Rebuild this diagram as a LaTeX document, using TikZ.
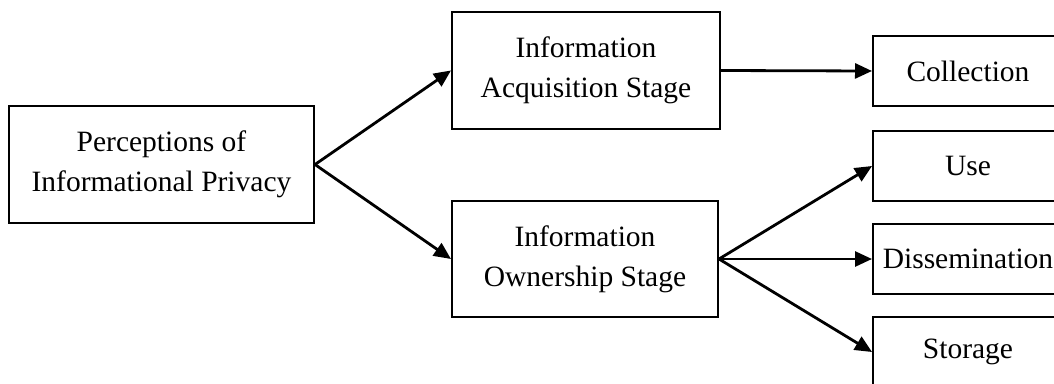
\documentclass[tikz,border=0pt]{standalone}
\usepackage{fontspec}
\setmainfont{Liberation Serif}
\usetikzlibrary{arrows.meta}
\begin{document}
\begin{tikzpicture}[x=1pt,y=-1pt,
  box/.style={draw=black,line width=2pt,inner sep=0pt,align=center,
    font=\fontsize{29.5}{40}\selectfont},
  conn/.style={line width=2.8pt,-{Triangle[length=17pt,width=15pt]}}]
\useasboundingbox (0,0) rectangle (1054,383);
\clip (0,0) rectangle (1054,383);
\node[box,minimum width=305pt,minimum height=117pt] (perc) at (161.5,164.5) {Perceptions of\\Informational Privacy};
\node[box,minimum width=268pt,minimum height=117pt] (acq) at (586,70.5) {Information\\Acquisition Stage};
\node[box,minimum width=266pt,minimum height=116pt] (own) at (585,259) {Information\\Ownership Stage};
\node[box,minimum width=190pt,minimum height=70pt] (coll) at (968,71) {Collection};
\node[box,minimum width=190pt,minimum height=70pt] (use) at (968,166) {Use};
\node[box,minimum width=190pt,minimum height=70pt] (diss) at (968,259) {Dissemination};
\node[box,minimum width=190pt,minimum height=70pt] (stor) at (968,352) {Storage};
\draw[conn] (perc.east) -- (acq.west);
\draw[conn] (perc.east) -- (own.west);
\draw[conn] (acq.east) -- (coll.west);
\draw[conn] (own.east) -- (use.west);
\draw[conn] (own.east) -- (diss.west);
\draw[conn] (own.east) -- (stor.west);
\end{tikzpicture}
\end{document}
